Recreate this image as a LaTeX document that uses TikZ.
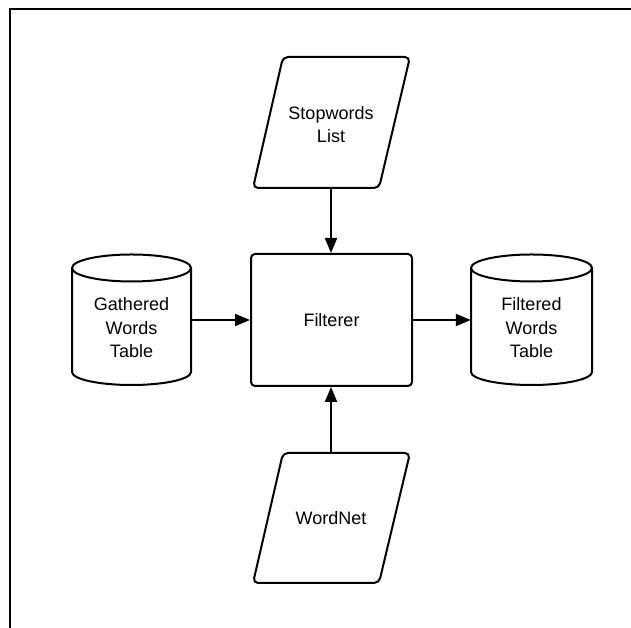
\documentclass[tikz,border=0pt]{standalone}
\usepackage{fontspec}
\setmainfont{Liberation Sans}
\usetikzlibrary{arrows.meta}
\begin{document}
\begin{tikzpicture}[x=1pt,y=1pt,
  shapeline/.style={line width=2pt, line join=round},
  txt/.style={align=center, font=\fontsize{18}{23.5}\selectfont, inner sep=0pt},
  procbox/.style={shapeline, draw, rounded corners=4pt, minimum width=161pt, minimum height=132pt, align=center, font=\fontsize{18}{23.5}\selectfont},
  anchorbox/.style={draw=none, inner sep=0pt},
  flow/.style={line width=2pt, -{Triangle[length=15pt,width=12pt]}}
]
\useasboundingbox (0,0) rectangle (631,628);
% frame lines
\draw[line width=2pt] (631,618.5) -- (9.5,618.5) -- (9.5,0);

% Filterer
\node[procbox] (filt) at (331.5,308) {Filterer};

% Stopwords List parallelogram
\draw[shapeline, rounded corners=5pt] (253,440) -- (283,571) -- (410,571) -- (379,440) -- cycle;
\node[anchorbox, minimum width=126pt, minimum height=131pt] (stop) at (331,505.5) {};
\node[txt] at ([yshift=-2pt]stop.center) {Stopwords\\List};

% WordNet parallelogram
\draw[shapeline, rounded corners=5pt] (253,45) -- (283,175) -- (410,175) -- (379,45) -- cycle;
\node[anchorbox, minimum width=126pt, minimum height=130pt] (wnet) at (331,110) {};
\node[txt] at (wnet.center) {WordNet};

% Gathered Words Table cylinder
\draw[shapeline] (72,360) -- (72,256) arc[start angle=180, end angle=360, x radius=59.5pt, y radius=13pt] -- (191,360);
\draw[shapeline] (131.5,360) ellipse[x radius=59.5pt, y radius=13.5pt];
\node[anchorbox, minimum width=119pt, minimum height=100pt] (gath) at (131.5,308) {};
\node[txt] at ([yshift=-8pt]gath.center) {Gathered\\Words\\Table};

% Filtered Words Table cylinder
\draw[shapeline] (471,360) -- (471,256) arc[start angle=180, end angle=360, x radius=60.5pt, y radius=13pt] -- (592,360);
\draw[shapeline] (531.5,360) ellipse[x radius=60.5pt, y radius=13.5pt];
\node[anchorbox, minimum width=121pt, minimum height=100pt] (filtd) at (531.5,308) {};
\node[txt] at ([yshift=-8pt]filtd.center) {Filtered\\Words\\Table};

% connectors
\draw[flow] (stop.south) -- (stop.south |- filt.north);
\draw[flow] (wnet.north) -- (wnet.north |- filt.south);
\draw[flow] (gath.east) -- (filt.west);
\draw[flow] (filt.east) -- (filtd.west);
\end{tikzpicture}
\end{document}
